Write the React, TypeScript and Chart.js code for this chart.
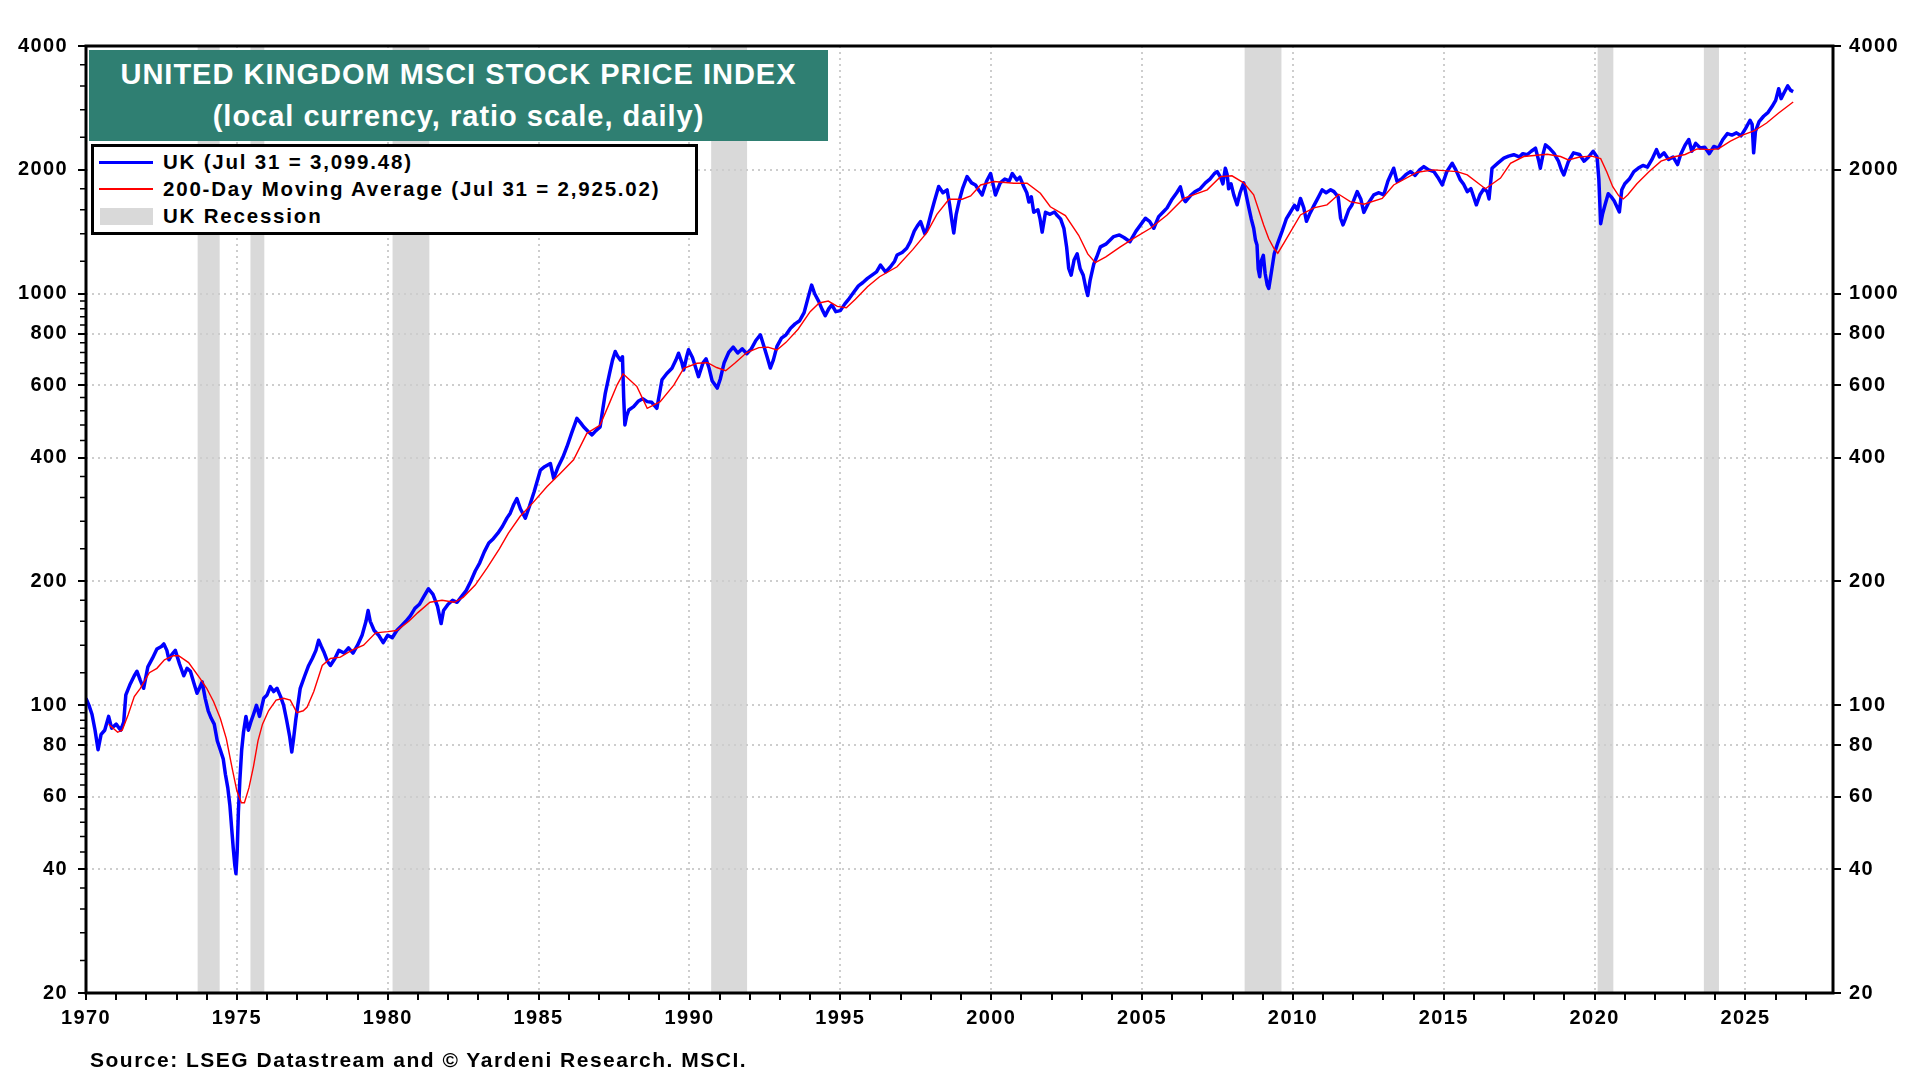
import React, { useEffect, useRef } from 'react';
import { Chart, registerables } from 'chart.js';

Chart.register(...registerables);

// UK MSCI index (year fraction, local currency)
const ukDates = [
  1970.0, 1970.1, 1970.2, 1970.3, 1970.4, 1970.5, 1970.62, 1970.75, 1970.85, 1971.0,
  1971.15, 1971.25, 1971.32, 1971.45, 1971.6, 1971.69, 1971.8, 1971.91, 1972.05, 1972.2,
  1972.35, 1972.5, 1972.58, 1972.68, 1972.75, 1972.85, 1972.96, 1973.1, 1973.24, 1973.35,
  1973.46, 1973.58, 1973.68, 1973.78, 1973.85, 1973.95, 1974.05, 1974.15, 1974.25, 1974.35,
  1974.45, 1974.55, 1974.62, 1974.7, 1974.77, 1974.83, 1974.88, 1974.93, 1974.97, 1975.01,
  1975.05, 1975.1, 1975.16, 1975.22, 1975.3, 1975.38, 1975.46, 1975.55, 1975.65, 1975.75,
  1975.89, 1976.0, 1976.11, 1976.22, 1976.33, 1976.45, 1976.55, 1976.65, 1976.75, 1976.82,
  1976.88, 1976.95, 1977.02, 1977.1, 1977.25, 1977.38, 1977.5, 1977.62, 1977.71, 1977.8,
  1977.88, 1978.0, 1978.1, 1978.25, 1978.38, 1978.55, 1978.7, 1978.85, 1979.0, 1979.15,
  1979.28, 1979.35, 1979.42, 1979.55, 1979.7, 1979.85, 1980.0, 1980.15, 1980.3, 1980.45,
  1980.6, 1980.75, 1980.9, 1981.05, 1981.2, 1981.35, 1981.5, 1981.65, 1981.77, 1981.85,
  1982.0, 1982.15, 1982.3, 1982.45, 1982.6, 1982.75, 1982.9, 1983.05, 1983.2, 1983.35,
  1983.5, 1983.65, 1983.8, 1983.95, 1984.06, 1984.18, 1984.28, 1984.4, 1984.56, 1984.7,
  1984.85, 1985.06, 1985.2, 1985.39, 1985.5, 1985.65, 1985.8, 1985.94, 1986.1, 1986.27,
  1986.4, 1986.49, 1986.65, 1986.77, 1986.9, 1987.04, 1987.12, 1987.21, 1987.35, 1987.45,
  1987.54, 1987.62, 1987.71, 1987.78, 1987.82, 1987.86, 1987.92, 1987.99, 1988.15, 1988.3,
  1988.45, 1988.6, 1988.75, 1988.92, 1989.09, 1989.25, 1989.42, 1989.55, 1989.64, 1989.75,
  1989.81, 1989.9, 1989.97, 1990.1, 1990.3, 1990.45, 1990.55, 1990.65, 1990.75, 1990.85,
  1990.92, 1991.02, 1991.15, 1991.3, 1991.45, 1991.6, 1991.75, 1991.9, 1992.05, 1992.2,
  1992.35, 1992.48, 1992.58, 1992.68, 1992.78, 1992.9, 1993.05, 1993.2, 1993.35, 1993.5,
  1993.65, 1993.8, 1993.95, 1994.05, 1994.15, 1994.28, 1994.4, 1994.5, 1994.62, 1994.72,
  1994.85, 1995.0, 1995.15, 1995.3, 1995.45, 1995.6, 1995.75, 1995.9, 1996.05, 1996.2,
  1996.33, 1996.5, 1996.65, 1996.8, 1996.88, 1997.05, 1997.2, 1997.32, 1997.45, 1997.55,
  1997.66, 1997.8, 1997.88, 1998.0, 1998.12, 1998.26, 1998.4, 1998.54, 1998.62, 1998.7,
  1998.76, 1998.84, 1998.93, 1999.05, 1999.2, 1999.35, 1999.48, 1999.6, 1999.7, 1999.85,
  1999.98, 2000.06, 2000.14, 2000.3, 2000.45, 2000.6, 2000.7, 2000.85, 2000.95, 2001.08,
  2001.18, 2001.25, 2001.33, 2001.41, 2001.55, 2001.62, 2001.69, 2001.8, 2001.95, 2002.1,
  2002.19, 2002.3, 2002.41, 2002.5, 2002.57, 2002.65, 2002.75, 2002.85, 2002.95, 2003.05,
  2003.14, 2003.2, 2003.28, 2003.4, 2003.5, 2003.62, 2003.8, 2004.06, 2004.25, 2004.4,
  2004.6, 2004.8, 2005.11, 2005.25, 2005.39, 2005.55, 2005.7, 2005.83, 2006.0, 2006.15,
  2006.27, 2006.37, 2006.44, 2006.6, 2006.75, 2006.93, 2007.1, 2007.25, 2007.4, 2007.49,
  2007.6, 2007.68, 2007.76, 2007.82, 2007.87, 2007.95, 2008.04, 2008.15, 2008.25, 2008.37,
  2008.45, 2008.54, 2008.62, 2008.7, 2008.76, 2008.81, 2008.85, 2008.9, 2008.95, 2009.02,
  2009.08, 2009.15, 2009.2, 2009.28, 2009.38, 2009.5, 2009.64, 2009.78, 2009.92, 2010.05,
  2010.15, 2010.25, 2010.36, 2010.45, 2010.55, 2010.7, 2010.85, 2010.97, 2011.1, 2011.25,
  2011.36, 2011.5, 2011.58, 2011.66, 2011.74, 2011.85, 2011.95, 2012.13, 2012.25, 2012.35,
  2012.5, 2012.68, 2012.85, 2013.01, 2013.15, 2013.34, 2013.45, 2013.6, 2013.75, 2013.9,
  2014.05, 2014.2, 2014.34, 2014.5, 2014.67, 2014.8, 2014.95, 2015.1, 2015.28, 2015.4,
  2015.55, 2015.65, 2015.78, 2015.9, 2016.08, 2016.2, 2016.33, 2016.44, 2016.5, 2016.6,
  2016.8, 2016.99, 2017.15, 2017.32, 2017.5, 2017.62, 2017.76, 2017.9, 2018.04, 2018.15,
  2018.2, 2018.3, 2018.37, 2018.5, 2018.65, 2018.8, 2018.9, 2018.98, 2019.13, 2019.3,
  2019.5, 2019.65, 2019.8, 2019.95, 2020.08, 2020.14, 2020.2, 2020.26, 2020.35, 2020.45,
  2020.55, 2020.65, 2020.75, 2020.82, 2020.9, 2021.0, 2021.15, 2021.3, 2021.45, 2021.6,
  2021.75, 2021.9, 2022.05, 2022.15, 2022.3, 2022.45, 2022.6, 2022.75, 2022.85, 2023.0,
  2023.12, 2023.22, 2023.35, 2023.5, 2023.65, 2023.8, 2023.95, 2024.1, 2024.25, 2024.4,
  2024.55, 2024.7, 2024.85, 2025.0, 2025.15, 2025.22, 2025.27, 2025.33, 2025.45, 2025.6,
  2025.75, 2025.88, 2026.0, 2026.1, 2026.18, 2026.3, 2026.4, 2026.5, 2026.58,
];

const ukValues = [
  104, 100, 95, 87, 78, 85, 87, 94, 88, 90,
  87, 91, 106, 112, 118, 121, 115, 110, 124, 130,
  137, 139, 141, 136, 129, 133, 136, 126, 118, 123,
  121, 113, 107, 111, 114, 104, 97, 93, 90, 82,
  78, 74, 68, 63, 57, 50, 45, 41, 39, 44,
  55, 66, 78, 86, 94, 87, 91, 95, 100, 94,
  104, 106, 111, 108, 110, 105, 100, 92, 84, 77,
  83, 92, 100, 110, 118, 125, 130, 136, 144, 139,
  135, 128, 125, 130, 136, 134, 138, 134, 140, 148,
  160, 170, 160, 152, 148, 142, 148, 146, 152, 156,
  160, 165, 172, 176, 184, 192, 186, 174, 158, 170,
  176, 180, 178, 184, 190, 200, 212, 222, 236, 248,
  254, 262, 272, 285, 293, 308, 318, 300, 285, 305,
  330, 373, 380, 387, 356, 380, 400, 425, 460, 498,
  485, 475, 462, 454, 465, 475, 520, 573, 640, 690,
  724, 705, 690, 703, 560, 480, 505, 522, 532, 548,
  556, 547, 545, 527, 618, 640, 659, 690, 717, 680,
  653, 700, 731, 700, 629, 680, 695, 660, 615, 600,
  590, 620, 680, 720, 742, 718, 735, 715, 735, 770,
  795, 740, 700, 660, 690, 745, 780, 795, 825, 845,
  860, 900, 990, 1050, 1000, 960, 915, 885, 920, 940,
  905, 910, 945, 975, 1010, 1045, 1065, 1090, 1110, 1130,
  1174, 1130, 1160, 1200, 1242, 1260, 1290, 1339, 1420, 1460,
  1498, 1400, 1442, 1560, 1680, 1822, 1760, 1788, 1650, 1500,
  1405, 1560, 1671, 1800, 1927, 1860, 1838, 1780, 1738, 1880,
  1960, 1850, 1738, 1860, 1900, 1880, 1960, 1890, 1920, 1822,
  1760, 1671, 1720, 1578, 1600, 1520, 1412, 1578, 1560, 1580,
  1549, 1520, 1442, 1300, 1152, 1110, 1210, 1250, 1150, 1110,
  1030, 990, 1080, 1180, 1230, 1300, 1320, 1377, 1390, 1370,
  1338, 1420, 1526, 1500, 1443, 1540, 1580, 1617, 1700, 1760,
  1819, 1700, 1675, 1730, 1770, 1800, 1860, 1900, 1960, 1981,
  1920, 1850, 2019, 1950, 1800, 1850, 1739, 1645, 1760, 1860,
  1740, 1617, 1520, 1443, 1350, 1314, 1150, 1100, 1200, 1240,
  1120, 1050, 1030, 1120, 1250, 1330, 1418, 1520, 1580, 1640,
  1600, 1705, 1617, 1500, 1560, 1640, 1720, 1789, 1760, 1790,
  1771, 1720, 1526, 1470, 1520, 1600, 1640, 1771, 1700, 1577,
  1660, 1739, 1760, 1739, 1880, 2019, 1875, 1900, 1950, 1981,
  1940, 2000, 2037, 2000, 1981, 1920, 1838, 1980, 2075, 2000,
  1891, 1850, 1771, 1800, 1645, 1740, 1800, 1771, 1700, 2019,
  2080, 2136, 2160, 2177, 2150, 2190, 2177, 2220, 2258, 2100,
  2019, 2200, 2300, 2260, 2197, 2100, 2000, 1945, 2096, 2200,
  2180, 2100, 2150, 2220, 2150, 1900, 1480, 1560, 1650, 1750,
  1720, 1680, 1620, 1580, 1790, 1850, 1900, 1980, 2020, 2050,
  2030, 2120, 2240, 2150, 2200, 2120, 2150, 2060, 2180, 2300,
  2370, 2220, 2320, 2260, 2270, 2190, 2280, 2260, 2370, 2450,
  2430, 2460, 2420, 2520, 2640, 2580, 2200, 2480, 2620, 2700,
  2760, 2850, 2950, 3150, 2980, 3100, 3200, 3120, 3099,
];

// 200-day moving average
const maDates = [
  1970.75, 1970.9, 1971.05, 1971.2, 1971.4, 1971.6, 1971.8, 1972.1, 1972.35, 1972.6,
  1972.9, 1973.07, 1973.4, 1973.79, 1974.0, 1974.23, 1974.45, 1974.65, 1974.85, 1975.0,
  1975.15, 1975.25, 1975.4, 1975.55, 1975.7, 1975.85, 1976.05, 1976.3, 1976.55, 1976.77,
  1976.99, 1977.2, 1977.33, 1977.55, 1977.83, 1978.1, 1978.43, 1978.8, 1979.2, 1979.6,
  1980.0, 1980.3, 1980.7, 1981.0, 1981.4, 1981.8, 1982.2, 1982.5, 1982.9, 1983.3,
  1983.7, 1984.0, 1984.39, 1984.8, 1985.28, 1985.7, 1986.16, 1986.6, 1987.04, 1987.37,
  1987.6, 1987.8, 1988.05, 1988.26, 1988.6, 1989.03, 1989.48, 1989.81, 1990.25, 1990.6,
  1990.9, 1991.2, 1991.5, 1991.9, 1992.3, 1992.6, 1992.9, 1993.2, 1993.6, 1994.0,
  1994.3, 1994.6, 1994.9, 1995.2, 1995.5, 1995.9, 1996.3, 1996.88, 1997.4, 1997.88,
  1998.2, 1998.6, 1999.04, 1999.32, 1999.65, 2000.09, 2000.75, 2001.19, 2001.63, 2001.96,
  2002.46, 2002.9, 2003.2, 2003.45, 2003.8, 2004.28, 2004.72, 2005.28, 2005.83, 2006.38,
  2007.16, 2007.6, 2007.98, 2008.37, 2008.7, 2009.03, 2009.2, 2009.37, 2009.5, 2009.7,
  2010.25, 2010.69, 2011.13, 2011.52, 2011.9, 2012.35, 2012.96, 2013.34, 2014.12, 2014.67,
  2015.44, 2015.78, 2016.38, 2016.88, 2017.21, 2017.65, 2018.43, 2018.87, 2019.13, 2019.5,
  2019.9, 2020.2, 2020.4, 2020.6, 2020.8, 2020.95, 2021.1, 2021.4, 2021.8, 2022.2,
  2022.6, 2023.0, 2023.4, 2023.8, 2024.1, 2024.5, 2024.9, 2025.3, 2025.7, 2026.1,
  2026.58,
];

const maValues = [
  90, 88, 86, 87, 95, 105, 110, 120, 123, 129,
  132, 132, 127, 116, 110, 102, 93, 83, 70, 62,
  58, 58, 63, 71, 82, 90, 97, 103, 104, 103,
  96, 97, 99, 108, 125, 130, 131, 136, 140, 150,
  151, 152, 160, 168, 178, 180, 178, 183, 196, 216,
  240, 262, 288, 310, 340, 365, 395, 458, 480, 547,
  600, 639, 615, 595, 527, 547, 600, 659, 678, 680,
  662, 650, 678, 720, 740, 742, 730, 762, 820, 905,
  950, 960, 932, 925, 970, 1040, 1100, 1163, 1280, 1412,
  1560, 1697, 1697, 1729, 1838, 1874, 1856, 1856, 1755, 1627,
  1549, 1387, 1250, 1190, 1230, 1300, 1364, 1443, 1554, 1705,
  1789, 1926, 1935, 1860, 1739, 1470, 1360, 1290, 1255, 1328,
  1554, 1617, 1645, 1745, 1675, 1651, 1705, 1838, 1974, 2000,
  1981, 1945, 1800, 1910, 2075, 2155, 2183, 2155, 2115, 2150,
  2160, 2130, 1980, 1820, 1730, 1700, 1740, 1850, 1980, 2100,
  2150, 2180, 2250, 2240, 2250, 2350, 2430, 2490, 2600, 2750,
  2925,
];

const recessionStarts = [1973.7, 1975.45, 1980.16, 1990.72, 2008.4, 2020.1, 2023.62];
const recessionEnds = [1974.43, 1975.91, 1981.38, 1991.91, 2009.62, 2020.62, 2024.12];

const yearTicks: number[] = [];
for (let y = 1970; y <= 2027; y++) yearTicks.push(y);

const yMajorTicks = [20, 40, 60, 80, 100, 200, 400, 600, 800, 1000, 2000, 4000];
const yMinorTicks = [
  24, 28, 32, 36, 44, 48, 52, 56, 64, 68, 72, 76, 84, 88, 92, 96,
  120, 140, 160, 180, 240, 280, 320, 360, 440, 480, 520, 560,
  640, 680, 720, 760, 840, 880, 920, 960,
  1200, 1400, 1600, 1800, 2400, 2800, 3200, 3600,
];

const FONT = '"Liberation Sans", Arial, Helvetica, sans-serif';
const GRID = '#cdcdcd';

const framePlugin = {
  id: 'frame',
  beforeDraw(chart: any) {
    const { ctx, chartArea, scales } = chart;
    ctx.save();
    ctx.fillStyle = '#ffffff';
    ctx.fillRect(0, 0, chart.width, chart.height);
    ctx.fillStyle = '#d9d9d9';
    recessionStarts.forEach((s, i) => {
      const x0 = scales.x.getPixelForValue(s);
      const x1 = scales.x.getPixelForValue(recessionEnds[i]);
      ctx.fillRect(x0, chartArea.top, x1 - x0, chartArea.bottom - chartArea.top);
    });
    ctx.restore();
    ctx.letterSpacing = '1.4px';
  },
  afterDraw(chart: any) {
    const { ctx, chartArea, scales } = chart;
    ctx.save();
    ctx.strokeStyle = '#000';
    ctx.lineWidth = 1.5;
    ctx.beginPath();
    yMinorTicks.forEach((v) => {
      const y = scales.y.getPixelForValue(v);
      ctx.moveTo(chartArea.left - 6, y);
      ctx.lineTo(chartArea.left, y);
    });
    ctx.stroke();
    ctx.lineWidth = 3;
    ctx.strokeRect(chartArea.left, chartArea.top, chartArea.right - chartArea.left, chartArea.bottom - chartArea.top);
    ctx.restore();
  },
};

const yAxis = (position: 'left' | 'right', width: number, onArea: boolean) => ({
  type: 'logarithmic' as const,
  position,
  min: 20,
  max: 4000,
  afterBuildTicks: (s: any) => {
    s.ticks = yMajorTicks.map((v) => ({ value: v }));
  },
  afterFit: (s: any) => {
    s.width = width;
  },
  border: { display: false, dash: [2, 4] },
  grid: {
    drawOnChartArea: onArea,
    color: (c: any) => (c.tick && (c.tick.value === 20 || c.tick.value === 4000) ? 'rgba(0,0,0,0)' : GRID),
    lineWidth: 2,
    tickLength: 8,
    tickColor: '#000',
    tickWidth: 2,
  },
  ticks: {
    color: '#000',
    padding: position === 'left' ? 10 : 8,
    font: { family: FONT, size: 20, weight: 'bold' as const },
    callback: (v: any) => String(v),
  },
});

export default function App() {
  const canvasRef = useRef<HTMLCanvasElement>(null);

  useEffect(() => {
    if (!canvasRef.current) return;
    const chart = new Chart(canvasRef.current, {
      type: 'line',
      data: {
        datasets: [
          {
            label: '200-Day Moving Average',
            data: maDates.map((d, i) => ({ x: d, y: maValues[i] })),
            borderColor: '#ff0000',
            borderWidth: 1.4,
            pointRadius: 0,
            order: 0,
          },
          {
            label: 'UK',
            data: ukDates.map((d, i) => ({ x: d, y: ukValues[i] })),
            borderColor: '#0000ff',
            borderWidth: 3.5,
            pointRadius: 0,
            borderJoinStyle: 'round',
            order: 1,
          },
        ],
      },
      options: {
        responsive: false,
        animation: false,
        layout: { padding: { top: 46, left: 0, right: 0, bottom: 0 } },
        plugins: { legend: { display: false }, tooltip: { enabled: false } },
        scales: {
          x: {
            type: 'linear',
            min: 1970,
            max: 2027.9,
            afterBuildTicks: (s: any) => {
              s.ticks = yearTicks.map((v) => ({ value: v }));
            },
            afterFit: (s: any) => {
              s.height = 87;
            },
            border: { display: false, dash: [2, 4] },
            grid: {
              color: (c: any) => (c.tick && c.tick.value % 5 === 0 && c.tick.value !== 1970 ? GRID : 'rgba(0,0,0,0)'),
              lineWidth: 2,
              tickLength: 7,
              tickColor: '#000',
              tickWidth: 2,
            },
            ticks: {
              color: '#000',
              autoSkip: false,
              maxRotation: 0,
              padding: 6,
              font: { family: FONT, size: 20, weight: 'bold' },
              callback: (v: any) => (Number(v) % 5 === 0 ? String(v) : ''),
            },
          },
          y: yAxis('left', 86, true),
          y2: yAxis('right', 87, false),
        },
      },
      plugins: [framePlugin],
    });
    return () => chart.destroy();
  }, []);

  const legendText: React.CSSProperties = {
    position: 'absolute',
    left: 69,
    height: 26,
    lineHeight: '26px',
    fontSize: 20.5,
    fontWeight: 'bold',
    letterSpacing: '1.8px',
    whiteSpace: 'nowrap',
    color: '#000',
  };

  return (
    <div style={{ position: 'fixed', left: 0, top: 0, width: 1920, height: 1080, background: '#fff', fontFamily: FONT, overflow: 'hidden' }}>
      <canvas ref={canvasRef} width={1920} height={1080} style={{ position: 'absolute', left: 0, top: 0, width: 1920, height: 1080 }} />
      <div style={{ position: 'absolute', left: 89, top: 50, width: 739, height: 91, background: '#2f7f72', color: '#fff', fontWeight: 'bold', fontSize: 29, letterSpacing: '1px', textAlign: 'center' }}>
        <div style={{ position: 'absolute', left: 0, right: 0, top: 3, height: 42, lineHeight: '42px' }}>UNITED KINGDOM MSCI STOCK PRICE INDEX</div>
        <div style={{ position: 'absolute', left: 0, right: 0, top: 45, height: 42, lineHeight: '42px' }}>(local currency, ratio scale, daily)</div>
      </div>
      <div style={{ position: 'absolute', left: 91, top: 144, width: 607, height: 91, boxSizing: 'border-box', border: '3px solid #000', background: '#fff' }}>
        <div style={{ position: 'absolute', left: 5, top: 14, width: 54, height: 3, background: '#0000ff' }} />
        <div style={{ position: 'absolute', left: 5, top: 41, width: 54, height: 1.5, background: '#ff0000' }} />
        <div style={{ position: 'absolute', left: 6, top: 61, width: 53, height: 17, background: '#d9d9d9' }} />
        <div style={{ ...legendText, top: 2 }}>UK (Jul 31 = 3,099.48)</div>
        <div style={{ ...legendText, top: 29 }}>200-Day Moving Average (Jul 31 = 2,925.02)</div>
        <div style={{ ...legendText, top: 56 }}>UK Recession</div>
      </div>
      <div style={{ position: 'absolute', left: 90, top: 1048, height: 24, lineHeight: '24px', fontSize: 21, fontWeight: 'bold', letterSpacing: '1.5px', whiteSpace: 'nowrap', color: '#000' }}>
        Source: LSEG Datastream and © Yardeni Research. MSCI.
      </div>
    </div>
  );
}
